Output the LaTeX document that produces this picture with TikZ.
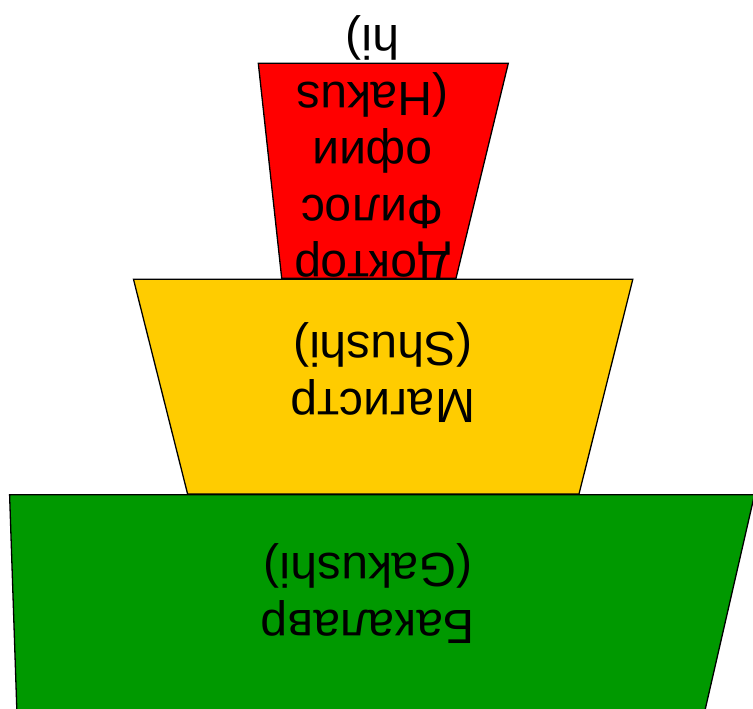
\documentclass[tikz,border=0pt]{standalone}
\usepackage{fontspec}
\setmainfont{Liberation Sans}
\definecolor{phdred}{HTML}{FF0000}
\definecolor{msyellow}{HTML}{FFCC00}
\definecolor{bagreen}{HTML}{009900}
\begin{document}
\begin{tikzpicture}[x=1pt,y=-1pt,
  tier/.style={draw=black,line width=1.3pt,line join=miter},
  lbl/.style={rotate=180,anchor=base,inner sep=0pt,text=black,font=\fontsize{48}{56}\selectfont}]
\useasboundingbox (0,0) rectangle (753,709);
% red tier
\filldraw[tier,fill=phdred] (258.3,63.3) -- (508.3,63.3) -- (456,278.3) -- (281.7,278.3) -- cycle;
\node[lbl] (phd1) at (372.5,251.5) {Доктор};
\node[lbl] (phd2) at (372.5,195) {Филос};
\node[lbl] (phd3) at (372.5,138.5) {офии};
\node[lbl] (phd4) at (372.5,82) {(Hakus};
\node[lbl] (phd5) at (372.5,25.5) {hi)};
% yellow tier
\filldraw[tier,fill=msyellow] (133.5,279.3) -- (632.8,279.3) -- (579,494) -- (187.6,494) -- cycle;
\node[lbl] (ms1) at (383,389) {Магистр};
\node[lbl] (ms2) at (383,332.5) {(Shushi)};
% green tier
\filldraw[tier,fill=bagreen] (9.6,494.7) -- (754.5,494.7) -- (704.6,712) -- (16.9,712) -- cycle;
\node[lbl] (ba1) at (368,610) {Бакалавр};
\node[lbl] (ba2) at (368,553.5) {(Gakushi)};
\end{tikzpicture}
\end{document}
